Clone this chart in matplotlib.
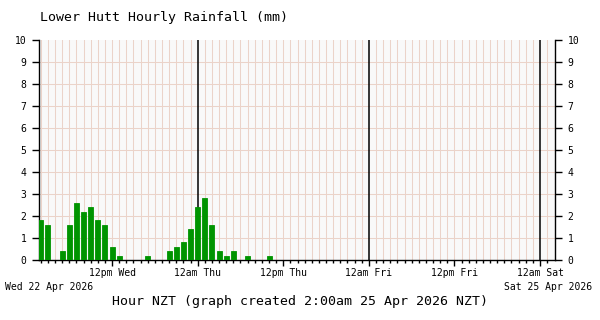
import numpy as np
import matplotlib
matplotlib.use('Agg')
import matplotlib.pyplot as plt

# hours counted from 12am Wed 22 Apr 2026 (NZT)
start_hour = 2
rain = [1.8, 1.6, 0.0, 0.4, 1.6, 2.6, 2.2, 2.4, 1.8, 1.6, 0.6, 0.2,
        0.0, 0.0, 0.0, 0.2, 0.0, 0.0, 0.4, 0.6, 0.8, 1.4, 2.4, 2.8,
        1.6, 0.4, 0.2, 0.4, 0.0, 0.2, 0.0, 0.0, 0.2, 0.0, 0.0, 0.0,
        0.0, 0.0, 0.0, 0.0, 0.0, 0.0, 0.0, 0.0, 0.0, 0.0, 0.0, 0.0,
        0.0, 0.0, 0.0, 0.0, 0.0, 0.0, 0.0, 0.0, 0.0, 0.0, 0.0, 0.0,
        0.0, 0.0, 0.0, 0.0, 0.0, 0.0, 0.0, 0.0, 0.0, 0.0, 0.0, 0.0]
hours = np.arange(start_hour, start_hour + len(rain))

major_hours = [12, 24, 36, 48, 60, 72]
major_labels = ['12pm Wed', '12am Thu', '12pm Thu', '12am Fri', '12pm Fri', '12am Sat']
midnights = [24, 48, 72]
yticks = list(range(0, 11))

title = 'Lower Hutt Hourly Rainfall (mm)'
xlabel = 'Hour NZT (graph created 2:00am 25 Apr 2026 NZT)'
date_left = 'Wed 22 Apr 2026'
date_right = 'Sat 25 Apr 2026'

mono = 'DejaVu Sans Mono'
grid_col = '#ebd3c9'
green = '#009400'

fig = plt.figure(figsize=(6, 3.2), dpi=100)
ax = fig.add_axes([39 / 600, 1 - 260 / 320, (555 - 39) / 600, 220 / 320])
ax.set_facecolor('#f9f9f9')

# grid
for h in hours:
    if h not in midnights:
        ax.axvline(h, color=grid_col, lw=0.75, zorder=0)
for y in yticks[1:-1]:
    ax.axhline(y, color=grid_col, lw=0.75, zorder=0)
for m in midnights:
    ax.axvline(m, color='black', lw=1.1, zorder=1)

ax.bar(hours, rain, width=0.7, color=green, edgecolor=green, linewidth=0.6, zorder=3)

ax.set_xlim(1.75, 74.1)
ax.set_ylim(0, 10)

ax.spines['top'].set_visible(False)
for s in ['left', 'right', 'bottom']:
    ax.spines[s].set_linewidth(1)
    ax.spines[s].set_color('black')

ax.set_xticks(major_hours)
ax.set_xticklabels(major_labels, fontfamily=mono, fontsize=7)
ax.set_xticks(hours, minor=True)
ax.tick_params(axis='x', which='major', length=4.5, width=1, pad=1.5)
ax.tick_params(axis='x', which='minor', length=1.8, width=1)

ax.set_yticks(yticks)
ax.set_yticklabels([str(v) for v in yticks], fontfamily=mono, fontsize=7)
ax.tick_params(axis='y', which='major', length=5, width=1, pad=4,
               left=True, right=True, labelleft=True, labelright=True)

fig.text(40 / 600, 1 - 18 / 320, title, fontfamily=mono, fontsize=9.5,
         ha='left', va='center')
fig.text(300 / 600, 1 - 301 / 320, xlabel, fontfamily=mono, fontsize=9.5,
         ha='center', va='center')
fig.text(5 / 600, 1 - 287 / 320, date_left, fontfamily=mono, fontsize=7,
         ha='left', va='center')
fig.text(592 / 600, 1 - 287 / 320, date_right, fontfamily=mono, fontsize=7,
         ha='right', va='center')

fig.savefig('out.png', dpi=100, facecolor='white')
